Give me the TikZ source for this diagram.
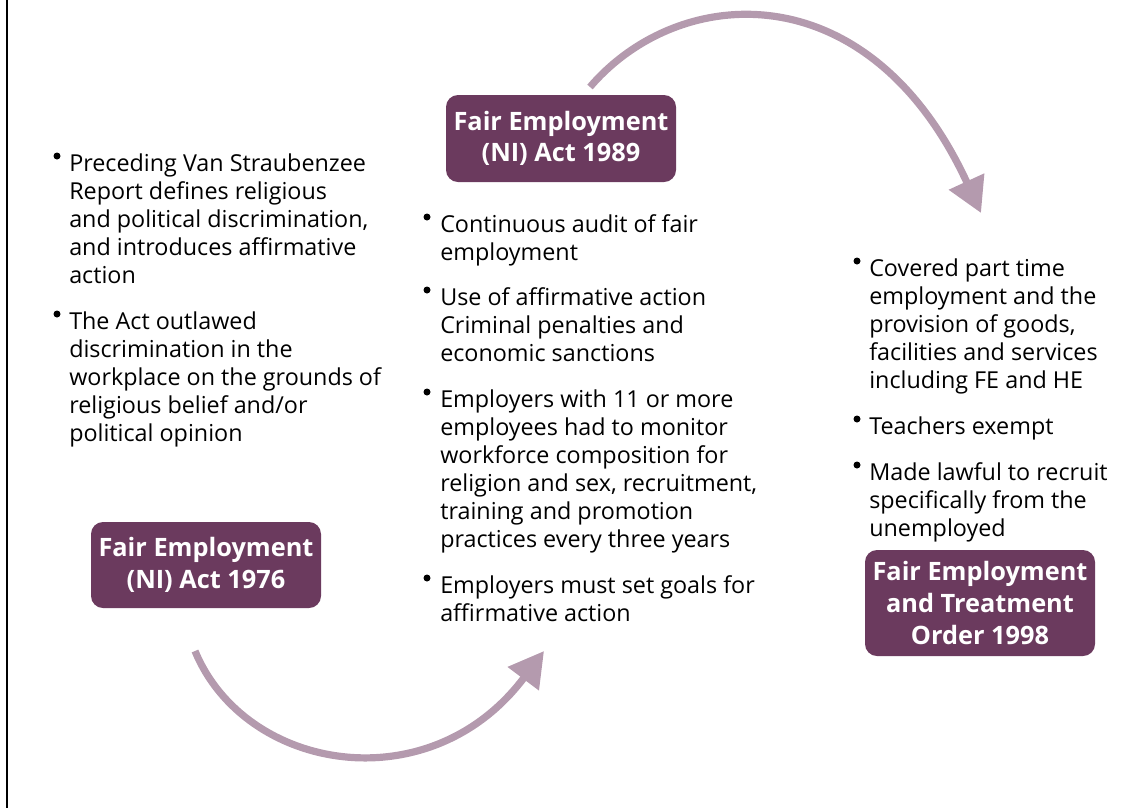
\documentclass[tikz,border=0pt]{standalone}
\usepackage{fontspec}
\setmainfont{Open Sans}
\usetikzlibrary{arrows.meta}
\definecolor{plum}{HTML}{6B3A5E}
\definecolor{mauve}{HTML}{B49AAE}
\tikzset{
  actbox/.style={fill=plum, rounded corners=9pt, text=white, align=center, inner sep=0pt,
    font=\fontsize{19}{23.8}\selectfont\bfseries, minimum width=172.5pt},
  bodytext/.style={anchor=base west, inner sep=0pt, font=\fontsize{17.5}{21}\selectfont},
  bul/.style={fill=black, circle, inner sep=0pt, minimum size=5.25pt},
  flow/.style={draw=mauve, line width=5.4pt, -{Triangle[width=28pt,length=26pt]}}
}
\newcommand{\para}[1]{\parbox[t]{330pt}{\raggedright #1}}
\begin{document}
\begin{tikzpicture}[x=0.75pt,y=-0.75pt]
\useasboundingbox (0,0) rectangle (1132,808);
\draw[line width=1.9pt] (7,0) -- (7,808);

% boxes
\node[actbox, minimum height=65.25pt] (b1989) at (561,138.5) {Fair Employment\\(NI) Act 1989};
\node[actbox, minimum height=64.5pt] (b1976) at (206,565) {Fair Employment\\(NI) Act 1976};
\node[actbox, minimum height=79.5pt] (b1998) at (980,603) {Fair Employment\\and Treatment\\Order 1998};

% left text
\node[bul] (lb1) at (57,156) {};
\node[bodytext] (lt1) at (69,171) {\para{Preceding Van Straubenzee\\Report defines religious\\and political discrimination,\\and introduces affirmative\\action}};
\node[bul] (lb2) at (57,314) {};
\node[bodytext] (lt2) at (69,329) {\para{The Act outlawed\\discrimination in the\\workplace on the grounds of\\religious belief and/or\\political opinion}};

% middle text
\node[bul] (mb1) at (427,217) {};
\node[bodytext] (mt1) at (440,232) {\para{Continuous audit of fair\\employment}};
\node[bul] (mb2) at (427,290) {};
\node[bodytext] (mt2) at (440,305) {\para{Use of affirmative action\\Criminal penalties and\\economic sanctions}};
\node[bul] (mb3) at (427,392) {};
\node[bodytext] (mt3) at (440,407) {\para{Employers with 11 or more\\employees had to monitor\\workforce composition for\\religion and sex, recruitment,\\training and promotion\\practices every three years}};
\node[bul] (mb4) at (427,578) {};
\node[bodytext] (mt4) at (440,593) {\para{Employers must set goals for\\affirmative action}};

% right text
\node[bul] (rb1) at (857,261) {};
\node[bodytext] (rt1) at (869,276) {\para{Covered part time\\employment and the\\provision of goods,\\facilities and services\\including FE and HE}};
\node[bul] (rb2) at (857,419) {};
\node[bodytext] (rt2) at (869,434) {\para{Teachers exempt}};
\node[bul] (rb3) at (857,465) {};
\node[bodytext] (rt3) at (869,480) {\para{Made lawful to recruit\\specifically from the\\unemployed}};

% arrows
\coordinate (a1s) at (590,87);
\coordinate (a1e) at (981,213);
\draw[flow] (a1s) .. controls (680,-18) and (870,-28) .. (a1e);
\coordinate (a2s) at (195,651);
\coordinate (a2e) at (544,651);
\draw[flow] (a2s) .. controls (245,772) and (430,803) .. (a2e);
\end{tikzpicture}
\end{document}
